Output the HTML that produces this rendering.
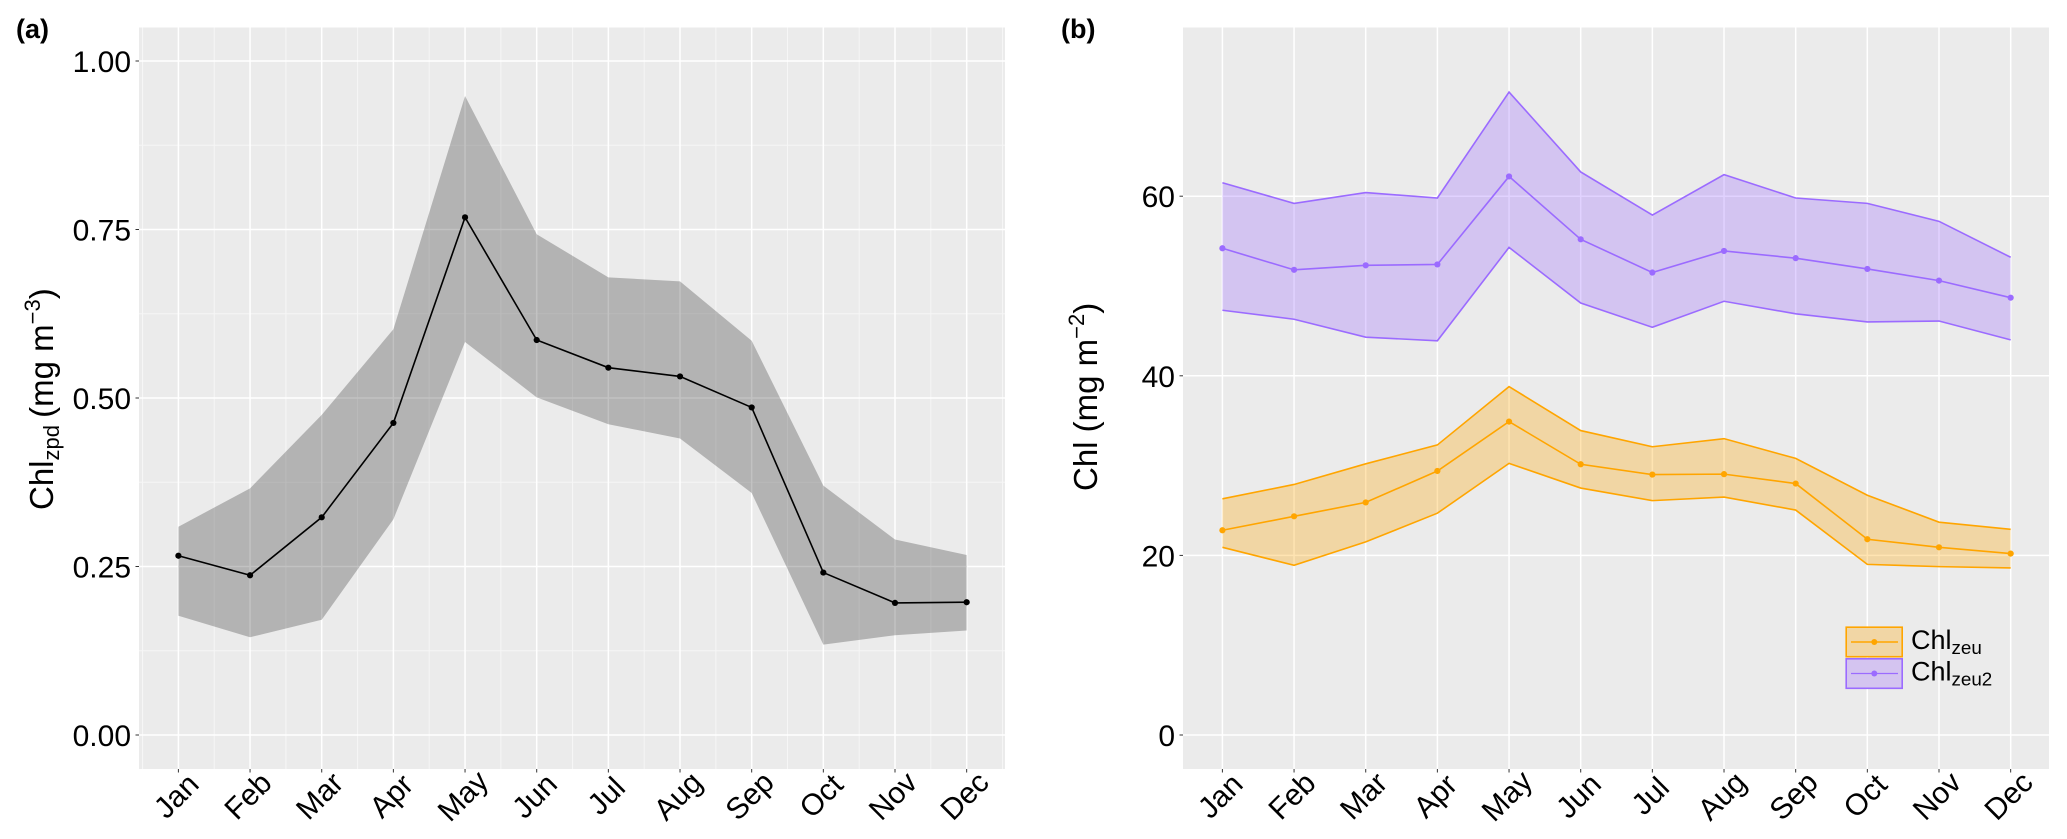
<!DOCTYPE html>
<html lang="en">
<head>
<meta charset="utf-8">
<title>Seasonal chlorophyll climatology</title>
<style>
  html, body { margin: 0; padding: 0; background: #ffffff; }
  body { width: 2067px; height: 839px; overflow: hidden; }
  svg { display: block; font-family: "Liberation Sans", Arial, sans-serif; }
  text { fill: #000000; }
</style>
</head>
<body>
<svg id="figure" xmlns="http://www.w3.org/2000/svg" width="2067" height="839" viewBox="0 0 2067 839">
  <rect x="0" y="0" width="2067" height="839" fill="#ffffff"/>
  <text x="16" y="38" font-size="27" font-weight="700">(a)</text>
  <text x="1061" y="38" font-size="27" font-weight="700">(b)</text>
  <g id="panel-a"></g>
  <g id="panel-b"></g>
  <text transform="translate(53,510) rotate(-90)" font-size="33">Chl<tspan font-size="22" dy="6">zpd</tspan><tspan dy="-6" dx="-2"> (mg m</tspan><tspan font-size="22" dy="-13">−3</tspan><tspan dy="13">)</tspan></text>
  <text transform="translate(1097,491) rotate(-90)" font-size="33">Chl (mg m<tspan font-size="22" dy="-13">−2</tspan><tspan dy="13">)</tspan></text>
  <g>
    <g>
      <rect x="1846.2" y="627.2" width="56" height="29.5" fill="#f1d6a5" stroke="#ffa500" stroke-width="1.6"/>
      <line x1="1851" y1="642" x2="1898" y2="642" stroke="#ffa500" stroke-width="1.6"/>
      <circle cx="1874.3" cy="642" r="3" fill="#ffa500"/>
      <text x="1911" y="649" font-size="27">Chl<tspan font-size="18.8" dy="5">zeu</tspan></text>
    </g>
    <g>
      <rect x="1846.2" y="658.8" width="56" height="29.5" fill="#d4c4f0" stroke="#9b6bff" stroke-width="1.6"/>
      <line x1="1851" y1="673.5" x2="1898" y2="673.5" stroke="#9b6bff" stroke-width="1.2"/>
      <circle cx="1874.3" cy="673.5" r="3" fill="#9b6bff"/>
      <text x="1911" y="680.5" font-size="27">Chl<tspan font-size="18.8" dy="5">zeu2</tspan></text>
    </g>
  </g>
</svg>
<script>
const months = ['Jan','Feb','Mar','Apr','May','Jun','Jul','Aug','Sep','Oct','Nov','Dec'];

const zpdTicks = [0, 0.25, 0.5, 0.75, 1];
const zpdTickLabels = ['0.00','0.25','0.50','0.75','1.00'];
const zpdMinorTicks = [0.125, 0.375, 0.625, 0.875];
const zpdMean = [0.266,0.237,0.323,0.463,0.768,0.586,0.545,0.532,0.486,0.241,0.196,0.197];
const zpdUpper = [0.309,0.366,0.475,0.602,0.948,0.743,0.679,0.673,0.585,0.370,0.290,0.267];
const zpdLower = [0.177,0.145,0.171,0.320,0.583,0.501,0.461,0.440,0.359,0.134,0.148,0.155];

const chlTicks = [0, 20, 40, 60];
const chlTickLabels = ['0','20','40','60'];
const zeuMean = [22.8,24.35,25.9,29.4,34.9,30.15,29.0,29.05,28.0,21.8,20.9,20.2];
const zeuUpper = [26.3,27.9,30.2,32.3,38.8,33.9,32.1,33.0,30.8,26.7,23.7,22.9];
const zeuLower = [20.9,18.9,21.5,24.7,30.25,27.5,26.1,26.5,25.05,19.0,18.75,18.6];
const zeu2Mean = [54.2,51.8,52.3,52.4,62.2,55.2,51.5,53.9,53.1,51.9,50.6,48.7];
const zeu2Upper = [61.5,59.2,60.4,59.8,71.6,62.7,57.9,62.4,59.8,59.2,57.2,53.2];
const zeu2Lower = [47.3,46.3,44.3,43.9,54.3,48.1,45.4,48.3,46.9,46.0,46.1,44.0];

const SVG_NS = 'http://www.w3.org/2000/svg';
const panelTop = 27.5, panelBottom = 769, zeroY = 735;

function make(parent, tag, attrs) {
  const node = document.createElementNS(SVG_NS, tag);
  for (const key in attrs) node.setAttribute(key, attrs[key]);
  parent.appendChild(node);
  return node;
}

function drawFrame(g, key, left, right, xAxis, yAxis, yTicks, yLabels, yMinor, xMinor) {
  const bg = make(g, 'rect', {x: left, y: panelTop, width: right - left, height: panelBottom - panelTop, fill: '#ebebeb'});
  
  

  yMinor.forEach(function (v) {
    const y = yAxis(v);
    const grid = make(g, 'line', {x1: left, x2: right, y1: y, y2: y, stroke: '#f6f6f6', 'stroke-width': 1});
    
    
  });
  if (xMinor) {
    for (let i = -0.5; i < months.length; i += 1) {
      const x = xAxis(i);
      const grid = make(g, 'line', {x1: x, x2: x, y1: panelTop, y2: panelBottom, stroke: '#f6f6f6', 'stroke-width': 1});
      
      
    }
  }
  yTicks.forEach(function (v, i) {
    const y = yAxis(v);
    const grid = make(g, 'line', {x1: left, x2: right, y1: y, y2: y, stroke: '#ffffff', 'stroke-width': 1.5});
    
    
    const tick = make(g, 'line', {x1: left - 3.5, x2: left, y1: y, y2: y, stroke: '#333333', 'stroke-width': 1});
    
    
    const label = make(g, 'text', {x: left - 8, y: y + 11, 'text-anchor': 'end', 'font-size': 30});
    
    
    label.textContent = yLabels[i];
  });
  months.forEach(function (m, i) {
    const x = xAxis(i);
    const grid = make(g, 'line', {x1: x, x2: x, y1: panelTop, y2: panelBottom, stroke: '#ffffff', 'stroke-width': 1.5});
    
    
    const tick = make(g, 'line', {x1: x, x2: x, y1: panelBottom, y2: panelBottom + 3.5, stroke: '#333333', 'stroke-width': 1});
    
    
    const label = make(g, 'text', {transform: 'translate(' + (x - 2) + ',796) rotate(-45)', x: 0, y: 10, 'text-anchor': 'middle', 'font-size': 30});
    
    
    label.textContent = m;
  });
}

function drawSeries(g, key, xAxis, yAxis, upper, lower, mean, color, fillOpacity, outlined, stroke) {
  const top = upper.map(function (v, i) { return xAxis(i) + ',' + yAxis(v); });
  const bottom = lower.map(function (v, i) { return xAxis(i) + ',' + yAxis(v); });
  const band = make(g, 'polygon', {points: top.concat(bottom.slice().reverse()).join(' '), fill: color, 'fill-opacity': fillOpacity, stroke: 'none'});
  
  
  if (outlined) {
    const upperLine = make(g, 'polyline', {points: top.join(' '), fill: 'none', stroke: color, 'stroke-width': stroke});
    
    
    const lowerLine = make(g, 'polyline', {points: bottom.join(' '), fill: 'none', stroke: color, 'stroke-width': stroke});
    
    
  }
  const meanPoints = mean.map(function (v, i) { return xAxis(i) + ',' + yAxis(v); });
  const meanLine = make(g, 'polyline', {points: meanPoints.join(' '), fill: 'none', stroke: color, 'stroke-width': stroke});
  
  
  mean.forEach(function (v, i) {
    const point = make(g, 'circle', {cx: xAxis(i), cy: yAxis(v), r: 3.1, fill: color});
    
    
  });
}

const xA = function (i) { return 178.4 + i * 71.66; };
const yA = function (v) { return zeroY - v * 674; };
const xB = function (i) { return 1222.4 + i * 71.66; };
const yB = function (v) { return zeroY - v * 8.98; };

const panelA = document.getElementById('panel-a');
drawFrame(panelA, 'panel-a', 139, 1005, xA, yA, zpdTicks, zpdTickLabels, zpdMinorTicks, true);
drawSeries(panelA, 'chl-zpd', xA, yA, zpdUpper, zpdLower, zpdMean, '#000000', 0.24, false, 1.6);

const panelB = document.getElementById('panel-b');
drawFrame(panelB, 'panel-b', 1183, 2049, xB, yB, chlTicks, chlTickLabels, [], false);
drawSeries(panelB, 'chl-zeu2', xB, yB, zeu2Upper, zeu2Lower, zeu2Mean, '#9b6bff', 0.3, true, 1.6);
drawSeries(panelB, 'chl-zeu', xB, yB, zeuUpper, zeuLower, zeuMean, '#ffa500', 0.3, true, 1.6);
</script>
</body>
</html>
